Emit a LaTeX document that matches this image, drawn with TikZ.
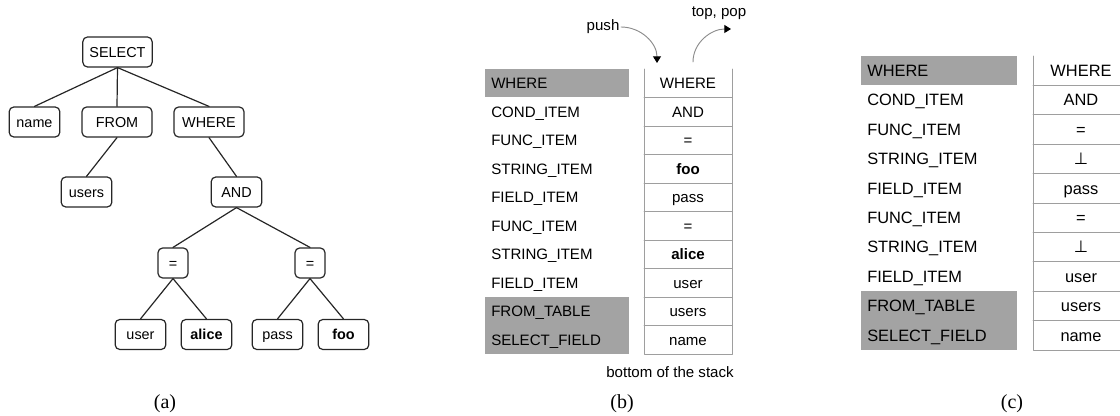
\documentclass[tikz,border=0pt]{standalone}
\usepackage{fontspec}
\setmainfont{Liberation Sans}
\newfontfamily\capfont{Liberation Serif}
\newfontfamily\symfont{DejaVu Sans}
\usetikzlibrary{arrows.meta}
\tikzset{
  tnode/.style={draw=black!85, line width=0.9pt, rounded corners=3.5pt, minimum height=22.5pt, minimum width=38pt,
    inner sep=0pt, text height=7.8pt, text depth=0pt, font=\fontsize{10.8}{12}\selectfont},
  tedge/.style={draw=black!85, line width=0.9pt},
  gbar/.style={fill=black!36},
  cell/.style={draw=black!38, line width=0.7pt},
  blab/.style={anchor=west, inner sep=0pt, text height=8.1pt, text depth=0pt, font=\fontsize{11.3}{12}\selectfont},
  bval/.style={blab, anchor=center},
  clab/.style={anchor=west, inner sep=0pt, text height=8.8pt, text depth=0pt, font=\fontsize{12.3}{13}\selectfont},
  cval/.style={clab, anchor=center},
  note/.style={inner sep=1pt, font=\fontsize{11.3}{12}\selectfont},
  arr/.style={draw=black!45, line width=0.7pt, -{Triangle[color=black, width=6pt, length=5pt]}},
  capt/.style={font=\capfont\fontsize{15}{16}\selectfont}
}
\newcommand{\masked}{{\symfont ⊥}}
\begin{document}
\begin{tikzpicture}[x=0.75pt, y=-0.75pt, line join=round, line cap=round]
\useasboundingbox (0,0) rectangle (1120,416);
% (a) parse tree
\node[tnode, minimum width=52pt] (select) at (117.5,52) {SELECT};
\node[tnode] (name) at (34.5,122) {name};
\node[tnode, minimum width=52.5pt] (from) at (117,122) {FROM};
\node[tnode, minimum width=52.5pt] (where) at (209,122) {WHERE};
\node[tnode] (users) at (86.5,192) {users};
\node[tnode] (and) at (236.5,192) {AND};
\node[tnode, minimum width=22.5pt] (eqa) at (173,263) {=};
\node[tnode, minimum width=22.5pt] (eqb) at (310,263) {=};
\node[tnode] (user) at (140.5,334.5) {user};
\node[tnode] (alice) at (206.5,334.5) {\textbf{alice}};
\node[tnode] (pass) at (277.5,334.5) {pass};
\node[tnode] (foo) at (343.5,334.5) {\textbf{foo}};
\foreach \a/\b in {select/name,select/from,select/where,from/users,where/and,and/eqa,and/eqb,eqa/user,eqa/alice,eqb/pass,eqb/foo}
  \draw[tedge] (\a.south)--(\b.north);
\node[capt] (capa) at (165,404) {(a)};
% (b) stack while parsing
\def\bL{485}\def\bR{629}\def\bx{644}\def\bX{732}\def\btop{69}\def\brow{28.5}
\fill[gbar] (\bL,\btop) rectangle (\bR,\btop+\brow);
\fill[gbar] (\bL,\btop+8*\brow) rectangle (\bR,\btop+10*\brow);
\draw[cell] (\bx,\btop)--(\bx,\btop+10*\brow)--(\bX,\btop+10*\brow)--(\bX,\btop);
\foreach \i in {1,...,9} \draw[cell] (\bx,\btop+\i*\brow)--(\bX,\btop+\i*\brow);
\foreach \lab/\val [count=\i from 0] in {WHERE/WHERE, COND\_ITEM/AND, FUNC\_ITEM/=, STRING\_ITEM/\textbf{foo},
    FIELD\_ITEM/pass, FUNC\_ITEM/=, STRING\_ITEM/\textbf{alice}, FIELD\_ITEM/user, FROM\_TABLE/users, SELECT\_FIELD/name}{
  \node[blab] (bl\i) at (\bL+6,\btop+\brow*\i+\brow/2) {\lab};
  \node[bval] (bv\i) at ({(\bx+\bX)/2},\btop+\brow*\i+\brow/2) {\val};
}
\node[note, anchor=east] (push) at (621,27) {push};
\coordinate (pushend) at (657,63);
\draw[arr] (push.east) to[out=0,in=90] (pushend);
\coordinate (popstart) at (693,62);
\coordinate (popend) at (731,29);
\draw[arr] (popstart) to[out=90,in=180] (popend);
\node[note] (top) at (719,13) {top, pop};
\node[note] (bottom) at (670,372) {bottom of the stack};
\node[capt] (capb) at (622,404) {(b)};
% (c) stack after masking
\def\cL{861}\def\cR{1017}\def\cx{1033}\def\cX{1121}\def\ctop{56}\def\crow{29.4}
\fill[gbar] (\cL,\ctop) rectangle (\cR,\ctop+\crow);
\fill[gbar] (\cL,\ctop+8*\crow) rectangle (\cR,\ctop+10*\crow);
\draw[cell] (\cx,\ctop)--(\cx,\ctop+10*\crow)--(\cX,\ctop+10*\crow)--(\cX,\ctop);
\foreach \i in {1,...,9} \draw[cell] (\cx,\ctop+\i*\crow)--(\cX,\ctop+\i*\crow);
\foreach \lab/\val [count=\i from 0] in {WHERE/WHERE, COND\_ITEM/AND, FUNC\_ITEM/=, STRING\_ITEM/\masked,
    FIELD\_ITEM/pass, FUNC\_ITEM/=, STRING\_ITEM/\masked, FIELD\_ITEM/user, FROM\_TABLE/users, SELECT\_FIELD/name}{
  \node[clab] (cl\i) at (\cL+6,\ctop+\crow*\i+\crow/2) {\lab};
  \node[cval] (cv\i) at (1081,\ctop+\crow*\i+\crow/2) {\val};
}
\node[capt] (capc) at (1012,404) {(c)};
\end{tikzpicture}
\end{document}
